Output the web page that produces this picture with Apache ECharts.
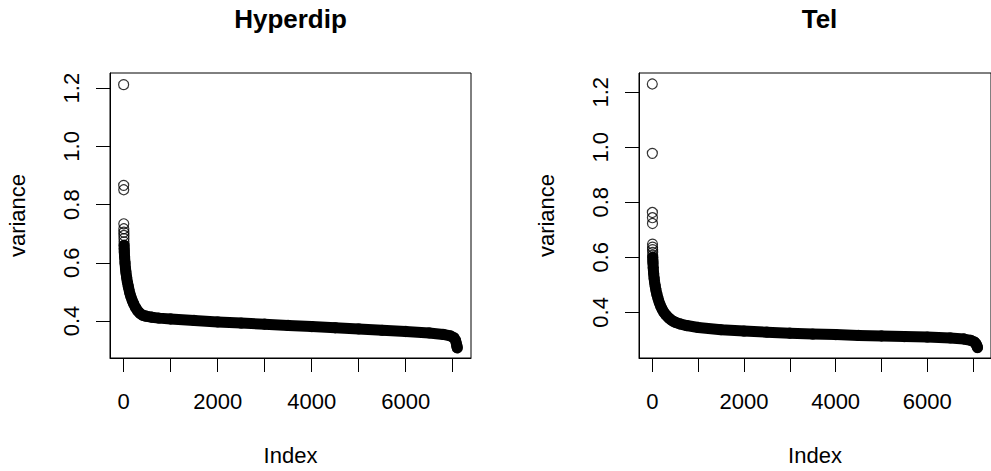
<!DOCTYPE html>
<html>
<head>
<meta charset="utf-8">
<title>Hyperdip / Tel</title>
<script src="https://cdn.jsdelivr.net/npm/echarts@6/dist/echarts.min.js"></script>
<style>
  html, body { margin: 0; padding: 0; background: #fff; }
  #chart { width: 991px; height: 471px; }
</style>
</head>
<body>
<div id="chart"></div>
<script>
// sorted gene variances (index -> variance)
const hyperIdx = [0, 1, 2, 3, 4, 5, 6, 7, 8, 10, 12, 15, 20, 30, 40, 50, 65, 80, 100, 125, 150, 180, 210, 250, 300, 350, 400, 450, 500, 600, 750, 1000, 1500, 2000, 2500, 3000, 3500, 4000, 4500, 5000, 5500, 6000, 6500, 6800, 6950, 7030, 7060, 7080, 7090, 7098];
const hyperVar = [1.212, 0.866, 0.851, 0.734, 0.717, 0.705, 0.694, 0.683, 0.672, 0.660, 0.648, 0.636, 0.620, 0.598, 0.580, 0.566, 0.549, 0.534, 0.518, 0.500, 0.486, 0.472, 0.460, 0.447, 0.435, 0.426, 0.420, 0.418, 0.416, 0.413, 0.410, 0.407, 0.402, 0.397, 0.393, 0.389, 0.385, 0.381, 0.377, 0.373, 0.368, 0.364, 0.359, 0.354, 0.349, 0.342, 0.334, 0.322, 0.313, 0.308];

const telIdx = [0, 1, 2, 3, 4, 5, 6, 7, 8, 9, 10, 12, 15, 20, 30, 40, 50, 65, 80, 100, 125, 150, 180, 210, 250, 300, 350, 400, 450, 500, 600, 750, 1000, 1500, 2000, 2500, 3000, 3500, 4000, 4500, 5000, 5500, 6000, 6500, 6800, 6950, 7030, 7060, 7080, 7095];
const telVar = [1.230, 0.978, 0.763, 0.744, 0.723, 0.648, 0.637, 0.628, 0.618, 0.608, 0.600, 0.590, 0.578, 0.562, 0.540, 0.523, 0.510, 0.494, 0.480, 0.465, 0.450, 0.437, 0.424, 0.413, 0.401, 0.390, 0.381, 0.374, 0.368, 0.364, 0.358, 0.352, 0.345, 0.337, 0.332, 0.328, 0.324, 0.321, 0.319, 0.316, 0.314, 0.312, 0.310, 0.307, 0.303, 0.298, 0.292, 0.286, 0.279, 0.272];

// points before this position are drawn as separate rings only
const hyperBandFrom = 9;
const telBandFrom = 10;

const xTicks = [0, 1000, 2000, 3000, 4000, 5000, 6000, 7000];
const xLabels = [0, 2000, 4000, 6000];
const yTicks = [0.4, 0.6, 0.8, 1.0, 1.2];

const titles = ["Hyperdip", "Tel"];

const chart = echarts.init(document.getElementById("chart"), null, { renderer: "svg" });

const font = "Liberation Sans, Arial, sans-serif";

function pairs(idx, vals, from) {
  return idx.slice(from).map((x, i) => [x, vals[i + from]]);
}

function makeX(gridIndex) {
  return {
    type: "value",
    gridIndex: gridIndex,
    min: -290,
    max: 7390,
    name: "Index",
    nameLocation: "middle",
    nameGap: 86,
    nameTextStyle: { fontSize: 22, fontFamily: font, color: "#000" },
    axisLine: { show: true, onZero: false, lineStyle: { color: "#000", width: 1 } },
    axisTick: { show: true, inside: false, length: 14, customValues: xTicks, lineStyle: { color: "#000", width: 1 } },
    axisLabel: { show: true, margin: 32, customValues: xLabels, formatter: v => String(v), fontSize: 22, fontFamily: font, color: "#000" },
    splitLine: { show: false }
  };
}

function makeY(gridIndex, min, max) {
  return {
    type: "value",
    gridIndex: gridIndex,
    min: min,
    max: max,
    name: "variance",
    nameLocation: "middle",
    nameGap: 82,
    nameRotate: 90,
    nameTextStyle: { fontSize: 22, fontFamily: font, color: "#000" },
    axisLine: { show: true, onZero: false, lineStyle: { color: "#000", width: 1 } },
    axisTick: { show: true, inside: false, length: 14, customValues: yTicks, lineStyle: { color: "#000", width: 1 } },
    axisLabel: {
      show: true,
      rotate: 90,
      margin: 28,
      customValues: yTicks,
      formatter: v => v.toFixed(1),
      fontSize: 22,
      fontFamily: font,
      color: "#000"
    },
    splitLine: { show: false }
  };
}

function bandSeries(axisIndex, idx, vals, from) {
  return {
    type: "line",
    xAxisIndex: axisIndex,
    yAxisIndex: axisIndex,
    data: pairs(idx, vals, from),
    symbol: "none",
    silent: true,
    lineStyle: { color: "#000", width: 11, cap: "round", join: "round" },
    z: 2
  };
}

function ringSeries(axisIndex, idx, vals) {
  return {
    type: "scatter",
    xAxisIndex: axisIndex,
    yAxisIndex: axisIndex,
    data: pairs(idx, vals, 0),
    symbol: "circle",
    symbolSize: 10,
    silent: true,
    itemStyle: { color: "rgba(0,0,0,0)", borderColor: "#000", borderWidth: 1.2 },
    z: 3
  };
}

chart.setOption({
  animation: false,
  backgroundColor: "#fff",
  grid: [
    { left: 110, top: 73, width: 361, height: 285, show: true, borderColor: "#000", borderWidth: 1, backgroundColor: "transparent" },
    { left: 639, top: 73, width: 361, height: 285, show: true, borderColor: "#000", borderWidth: 1, backgroundColor: "transparent" }
  ],
  xAxis: [makeX(0), makeX(1)],
  yAxis: [makeY(0, 0.273, 1.252), makeY(1, 0.234, 1.270)],
  graphic: [
    { type: "text", x: 290.5, y: 19, style: { text: titles[0], fontSize: 26, fontWeight: "bold", fontFamily: font, fill: "#000", textAlign: "center", textVerticalAlign: "middle" } },
    { type: "text", x: 819.5, y: 19, style: { text: titles[1], fontSize: 26, fontWeight: "bold", fontFamily: font, fill: "#000", textAlign: "center", textVerticalAlign: "middle" } }
  ],
  series: [
    bandSeries(0, hyperIdx, hyperVar, hyperBandFrom),
    ringSeries(0, hyperIdx, hyperVar),
    bandSeries(1, telIdx, telVar, telBandFrom),
    ringSeries(1, telIdx, telVar)
  ]
});

window.addEventListener("resize", () => {
  chart.resize();
});
</script>
</body>
</html>
